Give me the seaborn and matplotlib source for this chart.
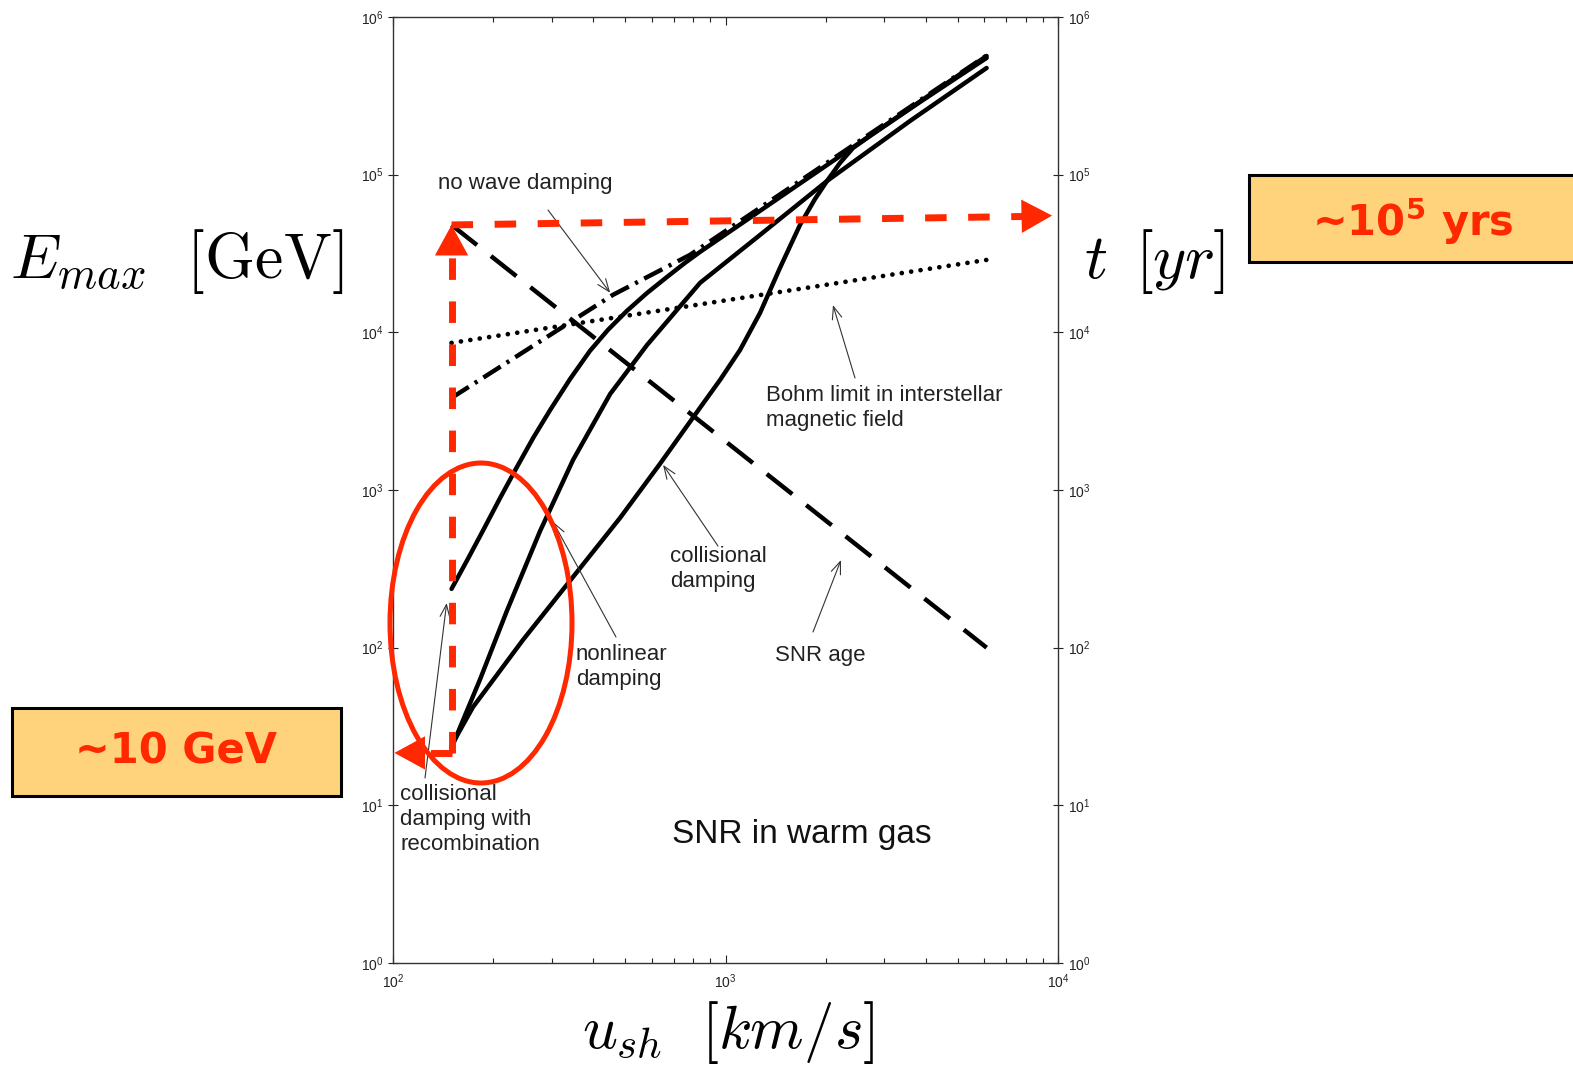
import matplotlib
matplotlib.use("Agg")
import pandas as pd
import matplotlib.pyplot as plt
from matplotlib.patches import Ellipse, Rectangle
from matplotlib.ticker import FixedLocator, NullLocator
import seaborn as sns

# Shock speed u_sh [km/s] vs maximum energy E_max [GeV]
u_snr_age = [150, 6100]
t_snr_age = [48000, 100]

u_bohm = [150, 6100]
E_bohm = [8570, 28800]

u_no_damp = [150, 459, 782, 6100]
E_no_damp = [3840, 17300, 31000, 570000]

u_recomb = [150, 168, 187, 210, 236, 264, 297, 341, 391, 443, 505, 581, 667, 755, 838, 1675, 6100]
E_recomb = [236, 366, 559, 891, 1401, 2140, 3220, 5064, 7622, 10360, 13670, 17780, 22450,
            27550, 32350, 87900, 566000]

u_nonlin = [150, 183, 220, 277, 348, 450, 581, 838, 1270, 2020, 3588, 6100]
E_nonlin = [23.2, 63.4, 171, 550, 1552, 4068, 8318, 20570, 41460, 91200, 219000, 475000]

u_coll = [150, 174, 246, 348, 482, 635, 838, 963, 1106, 1270, 1458, 1675, 1859, 2020, 2210,
          2418, 2720, 3846, 6100]
E_coll = [24, 42, 112, 281, 666, 1464, 3320, 4990, 7730, 13270, 25610, 48000, 70150, 91200,
          118700, 147700, 176000, 289000, 550000]

# axis ticks
x_major = [1e2, 1e3, 1e4]
x_minor = [200, 300, 400, 500, 600, 700, 800, 900,
           2000, 3000, 4000, 5000, 6000, 7000, 8000, 9000]
y_major = [1e0, 1e1, 1e2, 1e3, 1e4, 1e5, 1e6]

# red annotation: ~10 GeV at the lowest speed, ~1e5 yr age
E_low_mark = 21.5
u_left_tip = 101
u_right_tip = 9600
t_right_tip = 55000

RED = "#FF2800"
W, H = 1573, 1080


def fig_xy(x, y):
    # image pixel (from top-left) -> figure fraction
    return x / W, 1 - y / H


sns.set_style("white")
plt.rcParams["font.family"] = ["Liberation Sans", "DejaVu Sans"]

fig = plt.figure(figsize=(W / 100, H / 100), dpi=100)
ax = fig.add_axes([393 / W, 1 - 963 / H, 665 / W, 946 / H])
ax.set_xscale("log")
ax.set_yscale("log")

lw = 3.2
sns.lineplot(x=u_snr_age, y=t_snr_age, ax=ax, color="black", lw=lw,
             linestyle=(0, (7.3, 4.0)), sort=False, estimator=None)
sns.lineplot(x=u_bohm, y=E_bohm, ax=ax, color="black", lw=3.4,
             linestyle=(0, (0.01, 2.0)), dash_capstyle="round", sort=False, estimator=None)
sns.lineplot(x=u_no_damp, y=E_no_damp, ax=ax, color="black", lw=lw,
             linestyle=(0, (4.6, 1.6, 0.7, 1.6)), sort=False, estimator=None)
for u, e in [(u_recomb, E_recomb), (u_nonlin, E_nonlin), (u_coll, E_coll)]:
    sns.lineplot(x=u, y=e, ax=ax, color="black", lw=lw, sort=False, estimator=None,
                 solid_capstyle="round", solid_joinstyle="round")

ax.set_xlim(100, 1e4)
ax.set_ylim(1, 1e6)
ax.set_xlabel("")
ax.set_ylabel("")

ax.xaxis.set_major_locator(FixedLocator(x_major))
ax.xaxis.set_minor_locator(FixedLocator(x_minor))
ax.yaxis.set_major_locator(FixedLocator(y_major))
ax.yaxis.set_minor_locator(NullLocator())
ax.tick_params(axis="x", which="both", direction="in", top=True, bottom=True,
               labeltop=False, labelsize=10, pad=7, colors="#222222")
ax.tick_params(axis="x", which="major", length=6, width=0.8)
ax.tick_params(axis="x", which="minor", length=3.5, width=0.8)
ax.tick_params(axis="y", which="major", direction="inout", left=True, right=True,
               labelleft=True, labelright=True, length=7, width=0.8,
               labelsize=10, pad=3.5, colors="#222222")
for sp in ax.spines.values():
    sp.set_color("#333333")
    sp.set_linewidth(1.0)

# curve labels with thin arrows
lab = dict(fontsize=16, color="#222222")
arrow = dict(arrowstyle="->,head_length=0.9,head_width=0.35", color="#333333",
             lw=0.8, shrinkA=0, shrinkB=0)
labels = [
    ("no wave damping", (438, 183), (548, 210), (450, 17800)),
    ("Bohm limit in interstellar\nmagnetic field", (766, 408), (855, 378), (2105, 14900)),
    ("collisional\ndamping", (670, 569), (718, 546), (649, 1443)),
    ("SNR age", (775, 655), (813, 632), (2225, 360)),
    ("nonlinear\ndamping", (576, 667), (616, 637), (303, 628)),
    ("collisional\ndamping with\nrecombination", (400, 819), (425, 778), (145, 192)),
]
for text, pos, tail, tip in labels:
    fig.text(*fig_xy(*pos), text, ha="left", va="center", linespacing=1.25, **lab)
    ax.annotate("", xy=tip, xycoords="data", xytext=fig_xy(*tail),
                textcoords="figure fraction", arrowprops=arrow)

fig.text(*fig_xy(802, 834), "SNR in warm gas", ha="center", va="center",
         fontsize=24, color="#111111")

# axis titles in Computer Modern
big = dict(fontsize=46, math_fontfamily="cm", color="black", ha="center", va="center")
fig.text(*fig_xy(177, 262), r"$E_{max}\ \ [\mathrm{GeV}]$", **big)
fig.text(*fig_xy(1155, 262), r"$t\ \,[yr]$", **big)
big["fontsize"] = 44
fig.text(*fig_xy(728, 1033), r"$u_{sh}\ \ [km/s]$", **big)

# red dashed path and arrow heads
u0 = u_snr_age[0]
t0 = t_snr_age[0]
red_line = dict(color=RED, lw=5, linestyle=(0, (3.1, 3.1)), clip_on=False, zorder=10)
ax.plot([u0, u0], [E_low_mark, t0 * 0.82], **red_line)
ax.plot([u0, u_right_tip * 0.9], [t0, t_right_tip * 0.99], **red_line)
ax.plot([u0, u_left_tip * 1.15], [E_low_mark, E_low_mark], **red_line)
head = dict(arrowstyle="-|>,head_length=1.1,head_width=0.6", color=RED, lw=0,
            mutation_scale=20, shrinkA=0, shrinkB=0)
ax.annotate("", xy=(u0, t0), xytext=(u0, t0 * 0.5), arrowprops=head,
            annotation_clip=False, zorder=11)
ax.annotate("", xy=(u_right_tip, t_right_tip), xytext=(u_right_tip * 0.8, t_right_tip * 0.99),
            arrowprops=head, annotation_clip=False, zorder=11)
ax.annotate("", xy=(u_left_tip, E_low_mark), xytext=(u_left_tip * 1.3, E_low_mark),
            arrowprops=head, annotation_clip=False, zorder=11)

fig.add_artist(Ellipse(fig_xy(481, 623), 182 / W, 320 / H, transform=fig.transFigure,
                       fill=False, ec=RED, lw=3.6, zorder=12))

# yellow boxes
box = dict(transform=fig.transFigure, fc="#FED37B", ec="black", lw=2.2, zorder=5)
fig.add_artist(Rectangle(fig_xy(1249, 262), 400 / W, 87 / H, **box))
fig.add_artist(Rectangle(fig_xy(12, 796), 329 / W, 88 / H, **box))
boxtxt = dict(fontsize=30, fontweight="bold", color=RED, ha="center", va="center",
              family="DejaVu Sans", zorder=6)
fig.text(*fig_xy(1413, 222), r"~10$^{\mathbf{5}}$ yrs", **boxtxt)
fig.text(*fig_xy(176, 752), "~10 GeV", **boxtxt)

fig.savefig("out.png", dpi=100)
